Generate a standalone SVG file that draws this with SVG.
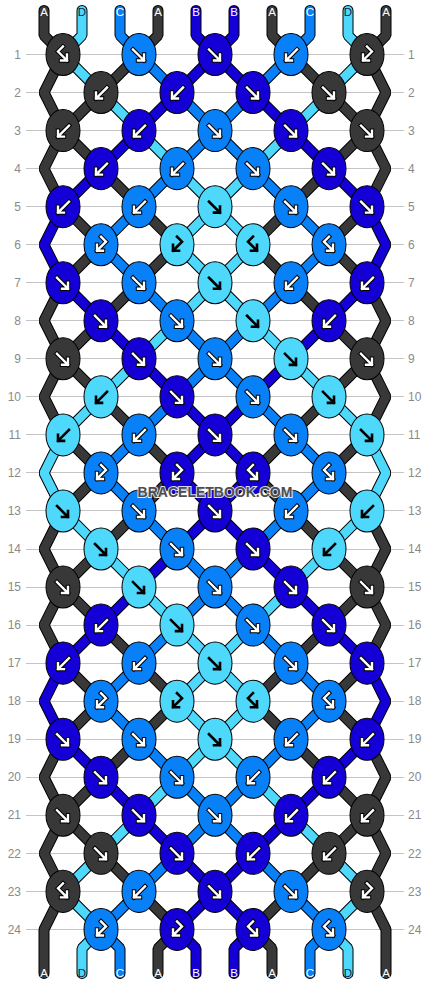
<svg xmlns="http://www.w3.org/2000/svg" width="430" height="984" viewBox="0 0 430 984">
<style>
.ln{stroke:#c4c4c4;stroke-width:1;shape-rendering:crispEdges}
.num{font-family:"Liberation Sans",Arial,sans-serif;font-size:12px;fill:#8a8a8a}
.nl{text-anchor:end}
.so{fill:none;stroke:#000;stroke-width:11;stroke-linejoin:bevel;stroke-linecap:round}
.sc{fill:none;stroke-width:9;stroke-linejoin:bevel;stroke-linecap:round}
.sA{stroke:#383838}.sB{stroke:#1400d6}.sC{stroke:#0880f8}.sD{stroke:#4dd8fc}
ellipse{stroke:#000;stroke-width:1}
.A{fill:#383838}.B{fill:#1400d6}.C{fill:#0880f8}.D{fill:#4dd8fc}
.lbl{font-family:"Liberation Sans",Arial,sans-serif;font-size:11.5px;text-anchor:middle;fill:#fff}
.ld{fill:#1c1c3c}
.wm{font-family:"Liberation Sans",Arial,sans-serif;font-size:14px;font-weight:bold;text-anchor:middle;fill:#4d4d4d;stroke:#fff;stroke-width:2;stroke-opacity:0.85;paint-order:stroke}
</style>
<defs>
<path id="pF" d="M-6,-5 L5,6 M-1,6 H5 V0"/>
<path id="pB" d="M6,-5 L-5,6 M1,6 H-5 V0"/>
<path id="pFB" d="M0,-8 L-5,-3 L4,6 M-2,6 H4 V0"/>
<path id="pBF" d="M0,-8 L5,-3 L-4,6 M2,6 H-4 V0"/>
<g id="wF" fill="none" stroke-linecap="square"><use href="#pF" stroke="#000" stroke-width="4.4"/><use href="#pF" stroke="#fff" stroke-width="2.4"/></g>
<g id="wB" fill="none" stroke-linecap="square"><use href="#pB" stroke="#000" stroke-width="4.4"/><use href="#pB" stroke="#fff" stroke-width="2.4"/></g>
<g id="wFB" fill="none" stroke-linecap="square"><use href="#pFB" stroke="#000" stroke-width="4.4"/><use href="#pFB" stroke="#fff" stroke-width="2.4"/></g>
<g id="wBF" fill="none" stroke-linecap="square"><use href="#pBF" stroke="#000" stroke-width="4.4"/><use href="#pBF" stroke="#fff" stroke-width="2.4"/></g>
<use id="bF" href="#pF" fill="none" stroke="#000" stroke-width="2.6" stroke-linecap="square"/>
<use id="bB" href="#pB" fill="none" stroke="#000" stroke-width="2.6" stroke-linecap="square"/>
<use id="bFB" href="#pFB" fill="none" stroke="#000" stroke-width="2.6" stroke-linecap="square"/>
<use id="bBF" href="#pBF" fill="none" stroke="#000" stroke-width="2.6" stroke-linecap="square"/>
<polyline id="p0" points="44,-44 44,-19 63,0 44,38 63,76 101,114 139,152 177,190 139,228 101,266 63,304 44,342 63,380 101,418 63,456 44,494 63,532 101,570 139,608 177,646 139,684 101,722 63,760 44,798 63,836 44,874 44,918"/>
<polyline id="p1" points="82,-44 82,-19 63,0 101,38 139,76 177,114 215,152 253,190 215,228 177,266 139,304 101,342 63,380 44,418 63,456 101,494 139,532 177,570 215,608 253,646 215,684 177,722 139,760 101,798 63,836 101,874 82,893 82,918"/>
<polyline id="p2" points="120,-44 120,-19 139,0 177,38 215,76 253,114 291,152 329,190 291,228 253,266 215,304 177,342 139,380 101,418 139,456 177,494 215,532 253,570 291,608 329,646 291,684 253,722 215,760 177,798 139,836 101,874 120,893 120,918"/>
<polyline id="p3" points="158,-44 158,-19 139,0 101,38 63,76 44,114 63,152 101,190 63,228 44,266 63,304 101,342 139,380 177,418 139,456 101,494 63,532 44,570 63,608 101,646 63,684 44,722 63,760 101,798 139,836 177,874 158,893 158,918"/>
<polyline id="p4" points="196,-44 196,-19 215,0 253,38 291,76 329,114 367,152 386,190 367,228 329,266 291,304 253,342 215,380 177,418 215,456 253,494 291,532 329,570 367,608 386,646 367,684 329,722 291,760 253,798 215,836 177,874 196,893 196,918"/>
<polyline id="p5" points="234,-44 234,-19 215,0 177,38 139,76 101,114 63,152 44,190 63,228 101,266 139,304 177,342 215,380 253,418 215,456 177,494 139,532 101,570 63,608 44,646 63,684 101,722 139,760 177,798 215,836 253,874 234,893 234,918"/>
<polyline id="p6" points="272,-44 272,-19 291,0 329,38 367,76 386,114 367,152 329,190 367,228 386,266 367,304 329,342 291,380 253,418 291,456 329,494 367,532 386,570 367,608 329,646 367,684 386,722 367,760 329,798 291,836 253,874 272,893 272,918"/>
<polyline id="p7" points="310,-44 310,-19 291,0 253,38 215,76 177,114 139,152 101,190 139,228 177,266 215,304 253,342 291,380 329,418 291,456 253,494 215,532 177,570 139,608 101,646 139,684 177,722 215,760 253,798 291,836 329,874 310,893 310,918"/>
<polyline id="p8" points="348,-44 348,-19 367,0 329,38 291,76 253,114 215,152 177,190 215,228 253,266 291,304 329,342 367,380 386,418 367,456 329,494 291,532 253,570 215,608 177,646 215,684 253,722 291,760 329,798 367,836 329,874 348,893 348,918"/>
<polyline id="p9" points="386,-44 386,-19 367,0 386,38 367,76 329,114 291,152 253,190 291,228 329,266 367,304 386,342 367,380 329,418 367,456 386,494 367,532 329,570 291,608 253,646 291,684 329,722 367,760 386,798 367,836 386,874 386,918"/>
</defs>
<rect width="430" height="984" fill="#fff"/>
<g transform="translate(0,54.5) scale(1,1.00105)">
<g id="grid">
<path class="ln" d="M26,0H404M26,38H404M26,76H404M26,114H404M26,152H404M26,190H404M26,228H404M26,266H404M26,304H404M26,342H404M26,380H404M26,418H404M26,456H404M26,494H404M26,532H404M26,570H404M26,608H404M26,646H404M26,684H404M26,722H404M26,760H404M26,798H404M26,836H404M26,874H404"/>
<g class="num nl">
<text x="21" y="4.2">1</text><text x="21" y="42.2">2</text><text x="21" y="80.2">3</text><text x="21" y="118.2">4</text><text x="21" y="156.2">5</text><text x="21" y="194.2">6</text><text x="21" y="232.2">7</text><text x="21" y="270.2">8</text><text x="21" y="308.2">9</text><text x="21" y="346.2">10</text><text x="21" y="384.2">11</text><text x="21" y="422.2">12</text><text x="21" y="460.2">13</text><text x="21" y="498.2">14</text><text x="21" y="536.2">15</text><text x="21" y="574.2">16</text><text x="21" y="612.2">17</text><text x="21" y="650.2">18</text><text x="21" y="688.2">19</text><text x="21" y="726.2">20</text><text x="21" y="764.2">21</text><text x="21" y="802.2">22</text><text x="21" y="840.2">23</text><text x="21" y="878.2">24</text>
</g>
<g class="num">
<text x="408" y="4.2">1</text><text x="408" y="42.2">2</text><text x="408" y="80.2">3</text><text x="408" y="118.2">4</text><text x="408" y="156.2">5</text><text x="408" y="194.2">6</text><text x="408" y="232.2">7</text><text x="408" y="270.2">8</text><text x="408" y="308.2">9</text><text x="408" y="346.2">10</text><text x="408" y="384.2">11</text><text x="408" y="422.2">12</text><text x="408" y="460.2">13</text><text x="408" y="498.2">14</text><text x="408" y="536.2">15</text><text x="408" y="574.2">16</text><text x="408" y="612.2">17</text><text x="408" y="650.2">18</text><text x="408" y="688.2">19</text><text x="408" y="726.2">20</text><text x="408" y="764.2">21</text><text x="408" y="802.2">22</text><text x="408" y="840.2">23</text><text x="408" y="878.2">24</text>
</g>
</g>
<g id="strings">
<use href="#p0" class="so"/><use href="#p0" class="sc sA"/>
<use href="#p1" class="so"/><use href="#p1" class="sc sD"/>
<use href="#p2" class="so"/><use href="#p2" class="sc sC"/>
<use href="#p3" class="so"/><use href="#p3" class="sc sA"/>
<use href="#p4" class="so"/><use href="#p4" class="sc sB"/>
<use href="#p5" class="so"/><use href="#p5" class="sc sB"/>
<use href="#p6" class="so"/><use href="#p6" class="sc sA"/>
<use href="#p7" class="so"/><use href="#p7" class="sc sC"/>
<use href="#p8" class="so"/><use href="#p8" class="sc sD"/>
<use href="#p9" class="so"/><use href="#p9" class="sc sA"/>
</g>
<g id="knots">
<g id="k1-1" transform="translate(63,0)"><ellipse class="A" rx="17" ry="21"/><use href="#wFB"/></g>
<g id="k1-2" transform="translate(139,0)"><ellipse class="C" rx="17" ry="21"/><use href="#wF"/></g>
<g id="k1-3" transform="translate(215,0)"><ellipse class="B" rx="17" ry="21"/><use href="#wF"/></g>
<g id="k1-4" transform="translate(291,0)"><ellipse class="C" rx="17" ry="21"/><use href="#wB"/></g>
<g id="k1-5" transform="translate(367,0)"><ellipse class="A" rx="17" ry="21"/><use href="#wBF"/></g>
<g id="k2-1" transform="translate(101,38)"><ellipse class="A" rx="17" ry="21"/><use href="#wB"/></g>
<g id="k2-2" transform="translate(177,38)"><ellipse class="B" rx="17" ry="21"/><use href="#wB"/></g>
<g id="k2-3" transform="translate(253,38)"><ellipse class="B" rx="17" ry="21"/><use href="#wF"/></g>
<g id="k2-4" transform="translate(329,38)"><ellipse class="A" rx="17" ry="21"/><use href="#wF"/></g>
<g id="k3-1" transform="translate(63,76)"><ellipse class="A" rx="17" ry="21"/><use href="#wB"/></g>
<g id="k3-2" transform="translate(139,76)"><ellipse class="B" rx="17" ry="21"/><use href="#wB"/></g>
<g id="k3-3" transform="translate(215,76)"><ellipse class="C" rx="17" ry="21"/><use href="#wF"/></g>
<g id="k3-4" transform="translate(291,76)"><ellipse class="B" rx="17" ry="21"/><use href="#wF"/></g>
<g id="k3-5" transform="translate(367,76)"><ellipse class="A" rx="17" ry="21"/><use href="#wF"/></g>
<g id="k4-1" transform="translate(101,114)"><ellipse class="B" rx="17" ry="21"/><use href="#wB"/></g>
<g id="k4-2" transform="translate(177,114)"><ellipse class="C" rx="17" ry="21"/><use href="#wB"/></g>
<g id="k4-3" transform="translate(253,114)"><ellipse class="C" rx="17" ry="21"/><use href="#wF"/></g>
<g id="k4-4" transform="translate(329,114)"><ellipse class="B" rx="17" ry="21"/><use href="#wF"/></g>
<g id="k5-1" transform="translate(63,152)"><ellipse class="B" rx="17" ry="21"/><use href="#wB"/></g>
<g id="k5-2" transform="translate(139,152)"><ellipse class="C" rx="17" ry="21"/><use href="#wB"/></g>
<g id="k5-3" transform="translate(215,152)"><ellipse class="D" rx="17" ry="21"/><use href="#bF"/></g>
<g id="k5-4" transform="translate(291,152)"><ellipse class="C" rx="17" ry="21"/><use href="#wF"/></g>
<g id="k5-5" transform="translate(367,152)"><ellipse class="B" rx="17" ry="21"/><use href="#wF"/></g>
<g id="k6-1" transform="translate(101,190)"><ellipse class="C" rx="17" ry="21"/><use href="#wBF"/></g>
<g id="k6-2" transform="translate(177,190)"><ellipse class="D" rx="17" ry="21"/><use href="#bBF"/></g>
<g id="k6-3" transform="translate(253,190)"><ellipse class="D" rx="17" ry="21"/><use href="#bFB"/></g>
<g id="k6-4" transform="translate(329,190)"><ellipse class="C" rx="17" ry="21"/><use href="#wFB"/></g>
<g id="k7-1" transform="translate(63,228)"><ellipse class="B" rx="17" ry="21"/><use href="#wF"/></g>
<g id="k7-2" transform="translate(139,228)"><ellipse class="C" rx="17" ry="21"/><use href="#wF"/></g>
<g id="k7-3" transform="translate(215,228)"><ellipse class="D" rx="17" ry="21"/><use href="#bF"/></g>
<g id="k7-4" transform="translate(291,228)"><ellipse class="C" rx="17" ry="21"/><use href="#wB"/></g>
<g id="k7-5" transform="translate(367,228)"><ellipse class="B" rx="17" ry="21"/><use href="#wB"/></g>
<g id="k8-1" transform="translate(101,266)"><ellipse class="B" rx="17" ry="21"/><use href="#wF"/></g>
<g id="k8-2" transform="translate(177,266)"><ellipse class="C" rx="17" ry="21"/><use href="#wF"/></g>
<g id="k8-3" transform="translate(253,266)"><ellipse class="D" rx="17" ry="21"/><use href="#bF"/></g>
<g id="k8-4" transform="translate(329,266)"><ellipse class="B" rx="17" ry="21"/><use href="#wB"/></g>
<g id="k9-1" transform="translate(63,304)"><ellipse class="A" rx="17" ry="21"/><use href="#wF"/></g>
<g id="k9-2" transform="translate(139,304)"><ellipse class="B" rx="17" ry="21"/><use href="#wF"/></g>
<g id="k9-3" transform="translate(215,304)"><ellipse class="C" rx="17" ry="21"/><use href="#wF"/></g>
<g id="k9-4" transform="translate(291,304)"><ellipse class="D" rx="17" ry="21"/><use href="#bF"/></g>
<g id="k9-5" transform="translate(367,304)"><ellipse class="A" rx="17" ry="21"/><use href="#wF"/></g>
<g id="k10-1" transform="translate(101,342)"><ellipse class="D" rx="17" ry="21"/><use href="#bB"/></g>
<g id="k10-2" transform="translate(177,342)"><ellipse class="B" rx="17" ry="21"/><use href="#wF"/></g>
<g id="k10-3" transform="translate(253,342)"><ellipse class="C" rx="17" ry="21"/><use href="#wF"/></g>
<g id="k10-4" transform="translate(329,342)"><ellipse class="D" rx="17" ry="21"/><use href="#bF"/></g>
<g id="k11-1" transform="translate(63,380)"><ellipse class="D" rx="17" ry="21"/><use href="#bB"/></g>
<g id="k11-2" transform="translate(139,380)"><ellipse class="C" rx="17" ry="21"/><use href="#wB"/></g>
<g id="k11-3" transform="translate(215,380)"><ellipse class="B" rx="17" ry="21"/><use href="#wF"/></g>
<g id="k11-4" transform="translate(291,380)"><ellipse class="C" rx="17" ry="21"/><use href="#wF"/></g>
<g id="k11-5" transform="translate(367,380)"><ellipse class="D" rx="17" ry="21"/><use href="#bF"/></g>
<g id="k12-1" transform="translate(101,418)"><ellipse class="C" rx="17" ry="21"/><use href="#wBF"/></g>
<g id="k12-2" transform="translate(177,418)"><ellipse class="B" rx="17" ry="21"/><use href="#wBF"/></g>
<g id="k12-3" transform="translate(253,418)"><ellipse class="B" rx="17" ry="21"/><use href="#wFB"/></g>
<g id="k12-4" transform="translate(329,418)"><ellipse class="C" rx="17" ry="21"/><use href="#wFB"/></g>
<g id="k13-1" transform="translate(63,456)"><ellipse class="D" rx="17" ry="21"/><use href="#bF"/></g>
<g id="k13-2" transform="translate(139,456)"><ellipse class="C" rx="17" ry="21"/><use href="#wF"/></g>
<g id="k13-3" transform="translate(215,456)"><ellipse class="B" rx="17" ry="21"/><use href="#wF"/></g>
<g id="k13-4" transform="translate(291,456)"><ellipse class="C" rx="17" ry="21"/><use href="#wB"/></g>
<g id="k13-5" transform="translate(367,456)"><ellipse class="D" rx="17" ry="21"/><use href="#bB"/></g>
<g id="k14-1" transform="translate(101,494)"><ellipse class="D" rx="17" ry="21"/><use href="#bF"/></g>
<g id="k14-2" transform="translate(177,494)"><ellipse class="C" rx="17" ry="21"/><use href="#wF"/></g>
<g id="k14-3" transform="translate(253,494)"><ellipse class="B" rx="17" ry="21"/><use href="#wF"/></g>
<g id="k14-4" transform="translate(329,494)"><ellipse class="D" rx="17" ry="21"/><use href="#bB"/></g>
<g id="k15-1" transform="translate(63,532)"><ellipse class="A" rx="17" ry="21"/><use href="#wF"/></g>
<g id="k15-2" transform="translate(139,532)"><ellipse class="D" rx="17" ry="21"/><use href="#bF"/></g>
<g id="k15-3" transform="translate(215,532)"><ellipse class="C" rx="17" ry="21"/><use href="#wF"/></g>
<g id="k15-4" transform="translate(291,532)"><ellipse class="B" rx="17" ry="21"/><use href="#wF"/></g>
<g id="k15-5" transform="translate(367,532)"><ellipse class="A" rx="17" ry="21"/><use href="#wF"/></g>
<g id="k16-1" transform="translate(101,570)"><ellipse class="B" rx="17" ry="21"/><use href="#wB"/></g>
<g id="k16-2" transform="translate(177,570)"><ellipse class="D" rx="17" ry="21"/><use href="#bF"/></g>
<g id="k16-3" transform="translate(253,570)"><ellipse class="C" rx="17" ry="21"/><use href="#wF"/></g>
<g id="k16-4" transform="translate(329,570)"><ellipse class="B" rx="17" ry="21"/><use href="#wF"/></g>
<g id="k17-1" transform="translate(63,608)"><ellipse class="B" rx="17" ry="21"/><use href="#wB"/></g>
<g id="k17-2" transform="translate(139,608)"><ellipse class="C" rx="17" ry="21"/><use href="#wB"/></g>
<g id="k17-3" transform="translate(215,608)"><ellipse class="D" rx="17" ry="21"/><use href="#bF"/></g>
<g id="k17-4" transform="translate(291,608)"><ellipse class="C" rx="17" ry="21"/><use href="#wF"/></g>
<g id="k17-5" transform="translate(367,608)"><ellipse class="B" rx="17" ry="21"/><use href="#wF"/></g>
<g id="k18-1" transform="translate(101,646)"><ellipse class="C" rx="17" ry="21"/><use href="#wBF"/></g>
<g id="k18-2" transform="translate(177,646)"><ellipse class="D" rx="17" ry="21"/><use href="#bBF"/></g>
<g id="k18-3" transform="translate(253,646)"><ellipse class="D" rx="17" ry="21"/><use href="#bFB"/></g>
<g id="k18-4" transform="translate(329,646)"><ellipse class="C" rx="17" ry="21"/><use href="#wFB"/></g>
<g id="k19-1" transform="translate(63,684)"><ellipse class="B" rx="17" ry="21"/><use href="#wF"/></g>
<g id="k19-2" transform="translate(139,684)"><ellipse class="C" rx="17" ry="21"/><use href="#wF"/></g>
<g id="k19-3" transform="translate(215,684)"><ellipse class="D" rx="17" ry="21"/><use href="#bF"/></g>
<g id="k19-4" transform="translate(291,684)"><ellipse class="C" rx="17" ry="21"/><use href="#wB"/></g>
<g id="k19-5" transform="translate(367,684)"><ellipse class="B" rx="17" ry="21"/><use href="#wB"/></g>
<g id="k20-1" transform="translate(101,722)"><ellipse class="B" rx="17" ry="21"/><use href="#wF"/></g>
<g id="k20-2" transform="translate(177,722)"><ellipse class="C" rx="17" ry="21"/><use href="#wF"/></g>
<g id="k20-3" transform="translate(253,722)"><ellipse class="C" rx="17" ry="21"/><use href="#wB"/></g>
<g id="k20-4" transform="translate(329,722)"><ellipse class="B" rx="17" ry="21"/><use href="#wB"/></g>
<g id="k21-1" transform="translate(63,760)"><ellipse class="A" rx="17" ry="21"/><use href="#wF"/></g>
<g id="k21-2" transform="translate(139,760)"><ellipse class="B" rx="17" ry="21"/><use href="#wF"/></g>
<g id="k21-3" transform="translate(215,760)"><ellipse class="C" rx="17" ry="21"/><use href="#wF"/></g>
<g id="k21-4" transform="translate(291,760)"><ellipse class="B" rx="17" ry="21"/><use href="#wB"/></g>
<g id="k21-5" transform="translate(367,760)"><ellipse class="A" rx="17" ry="21"/><use href="#wB"/></g>
<g id="k22-1" transform="translate(101,798)"><ellipse class="A" rx="17" ry="21"/><use href="#wF"/></g>
<g id="k22-2" transform="translate(177,798)"><ellipse class="B" rx="17" ry="21"/><use href="#wF"/></g>
<g id="k22-3" transform="translate(253,798)"><ellipse class="B" rx="17" ry="21"/><use href="#wB"/></g>
<g id="k22-4" transform="translate(329,798)"><ellipse class="A" rx="17" ry="21"/><use href="#wB"/></g>
<g id="k23-1" transform="translate(63,836)"><ellipse class="A" rx="17" ry="21"/><use href="#wFB"/></g>
<g id="k23-2" transform="translate(139,836)"><ellipse class="C" rx="17" ry="21"/><use href="#wB"/></g>
<g id="k23-3" transform="translate(215,836)"><ellipse class="B" rx="17" ry="21"/><use href="#wF"/></g>
<g id="k23-4" transform="translate(291,836)"><ellipse class="C" rx="17" ry="21"/><use href="#wF"/></g>
<g id="k23-5" transform="translate(367,836)"><ellipse class="A" rx="17" ry="21"/><use href="#wBF"/></g>
<g id="k24-1" transform="translate(101,874)"><ellipse class="C" rx="17" ry="21"/><use href="#wBF"/></g>
<g id="k24-2" transform="translate(177,874)"><ellipse class="B" rx="17" ry="21"/><use href="#wBF"/></g>
<g id="k24-3" transform="translate(253,874)"><ellipse class="B" rx="17" ry="21"/><use href="#wFB"/></g>
<g id="k24-4" transform="translate(329,874)"><ellipse class="C" rx="17" ry="21"/><use href="#wFB"/></g>
</g>
</g>
<g id="labels">
<text class="lbl" x="44" y="15.5">A</text><text class="lbl ld" x="82" y="15.5">D</text><text class="lbl" x="120" y="15.5">C</text><text class="lbl" x="158" y="15.5">A</text><text class="lbl" x="196" y="15.5">B</text><text class="lbl" x="234" y="15.5">B</text><text class="lbl" x="272" y="15.5">A</text><text class="lbl" x="310" y="15.5">C</text><text class="lbl ld" x="348" y="15.5">D</text><text class="lbl" x="386" y="15.5">A</text>
<text class="lbl" x="44" y="976.5">A</text><text class="lbl ld" x="82" y="976.5">D</text><text class="lbl" x="120" y="976.5">C</text><text class="lbl" x="158" y="976.5">A</text><text class="lbl" x="196" y="976.5">B</text><text class="lbl" x="234" y="976.5">B</text><text class="lbl" x="272" y="976.5">A</text><text class="lbl" x="310" y="976.5">C</text><text class="lbl ld" x="348" y="976.5">D</text><text class="lbl" x="386" y="976.5">A</text>
</g>
<text id="watermark" class="wm" x="215" y="497">BRACELETBOOK.COM</text>
</svg>
